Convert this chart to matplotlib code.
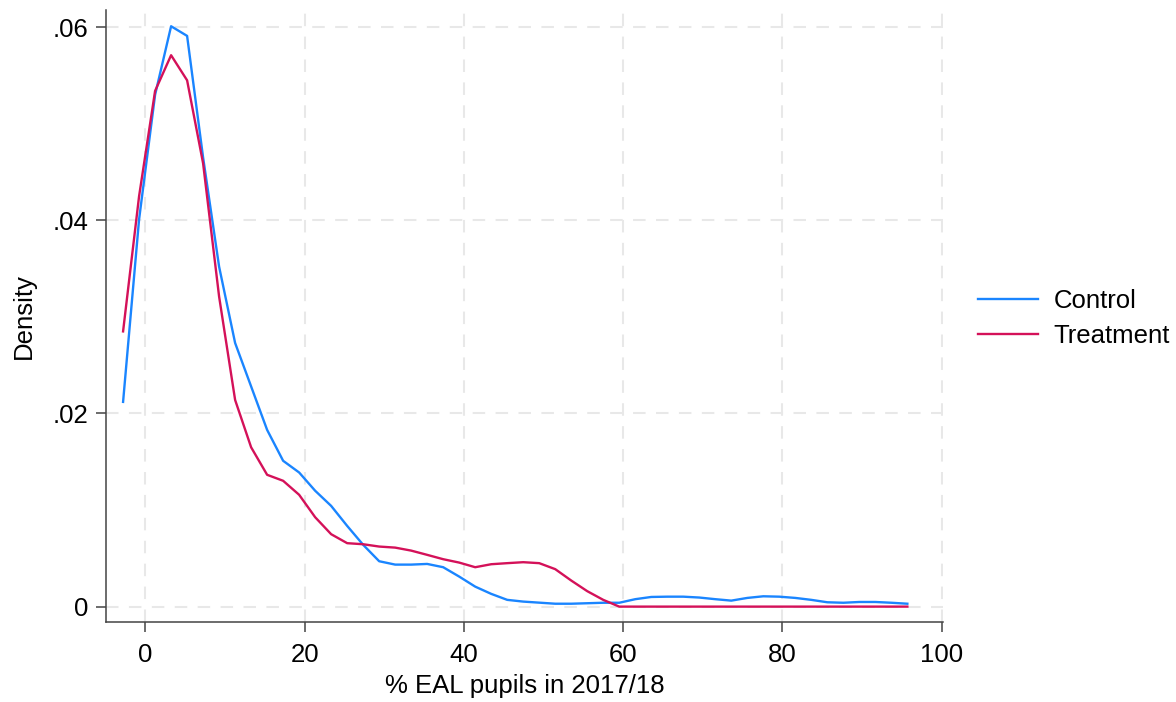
import matplotlib
matplotlib.use("Agg")
import matplotlib.pyplot as plt

plt.rcParams['font.family'] = ['Liberation Sans', 'DejaVu Sans']

# Kernel density evaluation grid (% EAL pupils)
eal_grid = [-2.8, -0.79, 1.22, 3.23, 5.24, 7.25, 9.26, 11.27, 13.28, 15.29,
            17.30, 19.31, 21.32, 23.33, 25.34, 27.35, 29.36, 31.37, 33.38, 35.39,
            37.40, 39.41, 41.42, 43.43, 45.44, 47.45, 49.46, 51.47, 53.48, 55.49,
            57.50, 59.51, 61.52, 63.53, 65.54, 67.55, 69.56, 71.57, 73.58, 75.59,
            77.60, 79.61, 81.62, 83.63, 85.64, 87.65, 89.66, 91.67, 93.68, 95.69]

density_control = [0.0212, 0.0401, 0.0530, 0.0601, 0.0591, 0.0465, 0.0352, 0.0273, 0.0228, 0.0183,
                   0.0151, 0.01389, 0.0120, 0.01043, 0.00836, 0.00640, 0.00470, 0.00435, 0.00435, 0.00442,
                   0.00408, 0.00311, 0.00207, 0.00132, 0.00070, 0.00052, 0.00041, 0.00030, 0.00030, 0.00035,
                   0.00040, 0.00040, 0.00077, 0.00100, 0.00103, 0.00103, 0.00094, 0.00077, 0.00062, 0.00090,
                   0.00107, 0.00103, 0.00090, 0.00070, 0.00045, 0.00040, 0.00048, 0.00048, 0.00040, 0.00030]

density_treatment = [0.0285, 0.0425, 0.0534, 0.0571, 0.0545, 0.0459, 0.0321, 0.0214, 0.0165, 0.01365,
                     0.01303, 0.01158, 0.00926, 0.00750, 0.00657, 0.00646, 0.00622, 0.00611, 0.00580, 0.00536,
                     0.00491, 0.00456, 0.00408, 0.00439, 0.00450, 0.00460, 0.00450, 0.00388, 0.00270, 0.00160,
                     0.00070, 0.0, 0.0, 0.0, 0.0, 0.0, 0.0, 0.0, 0.0, 0.0,
                     0.0, 0.0, 0.0, 0.0, 0.0, 0.0, 0.0, 0.0, 0.0, 0.0]

x_ticks = [0, 20, 40, 60, 80, 100]
y_ticks = [0, 0.02, 0.04, 0.06]
y_tick_labels = ["0", ".02", ".04", ".06"]

fig = plt.figure(figsize=(11.76, 7.02), dpi=100)
ax = fig.add_axes([0.0901, 0.114, 0.712, 0.872])

ax.plot(eal_grid, density_control, color="#1A85FF", lw=1.7, label="Control")
ax.plot(eal_grid, density_treatment, color="#D41159", lw=1.7, label="Treatment")

ax.set_xlim(-4.95, 100.2)
ax.set_ylim(-0.00159, 0.0618)
ax.set_xticks(x_ticks)
ax.set_yticks(y_ticks)
ax.set_yticklabels(y_tick_labels)

ax.grid(True, color="#e8e8e8", linestyle=(0, (6, 5)), linewidth=1.5)
ax.set_axisbelow(True)

for side in ("top", "right"):
    ax.spines[side].set_visible(False)
for side in ("left", "bottom"):
    ax.spines[side].set_color("#444444")
    ax.spines[side].set_linewidth(1.1)

ax.tick_params(axis="both", direction="out", length=7.5, width=1.1, color="#444444",
               labelsize=18.5)
ax.tick_params(axis="x", pad=8)
ax.tick_params(axis="y", pad=5)

ax.set_xlabel("% EAL pupils in 2017/18", fontsize=18.5, labelpad=5)
ax.set_ylabel("Density", fontsize=18.5, labelpad=12)

ax.legend(loc="center left", bbox_to_anchor=(1.042, 0.496), frameon=False,
          borderpad=0, borderaxespad=0,
          fontsize=18.5, handlelength=2.3, handletextpad=0.62, labelspacing=0.45)

fig.savefig("out.png", dpi=100)
